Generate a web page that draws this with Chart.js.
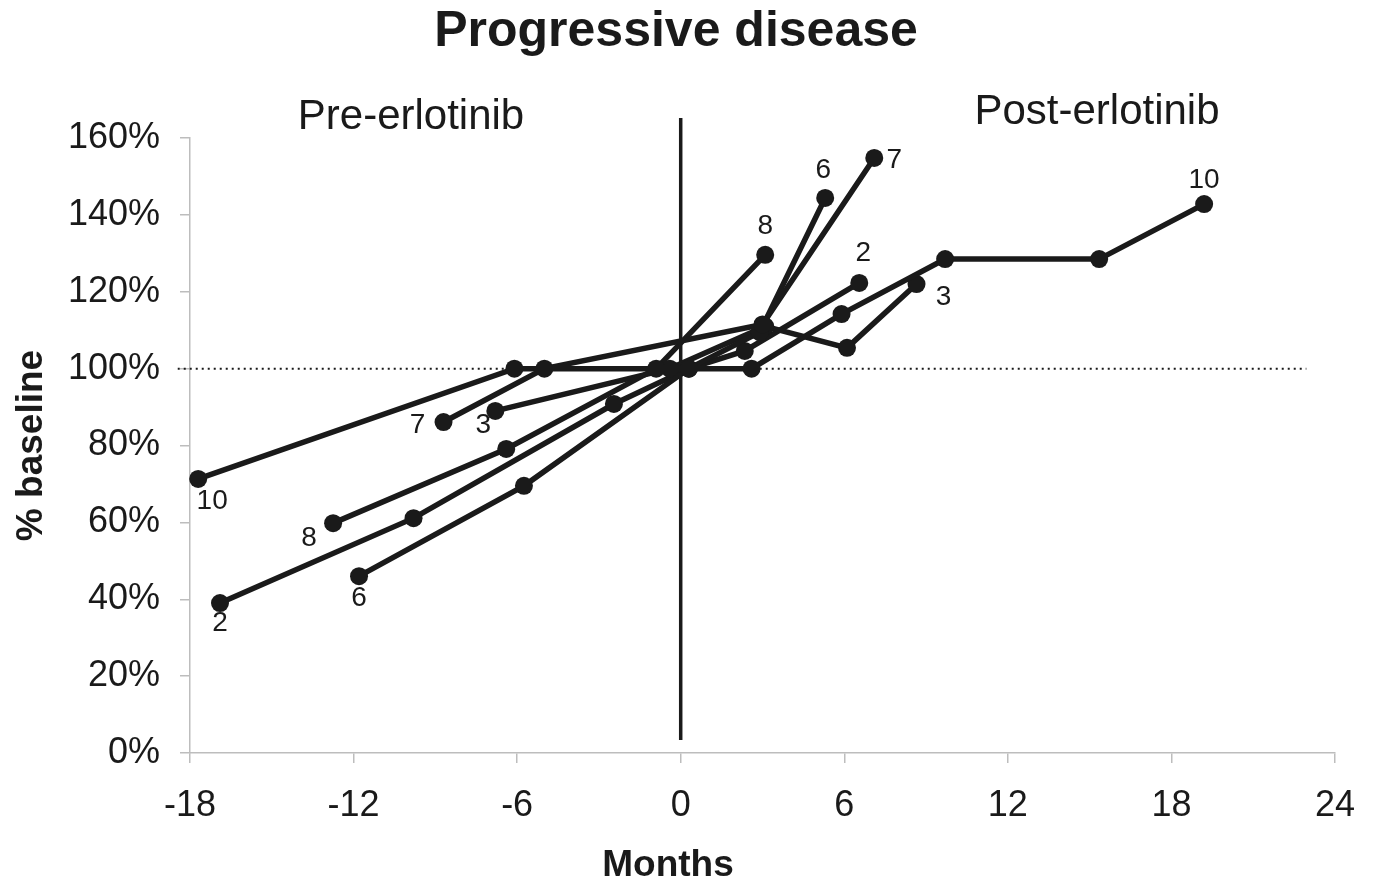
<!DOCTYPE html>
<html>
<head>
<meta charset="utf-8">
<title>Progressive disease</title>
<script src="https://cdn.jsdelivr.net/npm/chart.js@4.4.1/dist/chart.umd.min.js"></script>
<style>
  html, body { margin: 0; padding: 0; background: #fff; }
  #wrap { position: relative; width: 1376px; height: 892px; }
</style>
</head>
<body>
<div id="wrap"><canvas id="chart" width="1376" height="892"></canvas></div>
<script>
// patient ids, shown at both ends of each line
const patients = ['10', '7', '6', '8', '3', '2'];

// months from erlotinib start, and % of baseline, per patient
const months10 = [-17.7, -6.1, 2.6, 5.9, 9.7, 15.35, 19.2];
const pct10    = [71.3, 100, 100, 114.2, 128.5, 128.5, 142.8];
const months7  = [-8.7, -5.0, 3.0, 7.1];
const pct7     = [86.1, 100, 111.5, 154.8];
const months6  = [-11.8, -5.75, 0.3, 2.9, 5.3];
const pct6     = [46.0, 69.5, 100, 109.5, 144.4];
const months8  = [-12.75, -6.4, -0.9, 3.1];
const pct8     = [59.8, 79.1, 100, 129.6];
const months3  = [-6.8, -0.4, 3.1, 6.1, 8.65];
const pct3     = [89.0, 100, 111.0, 105.4, 122.0];
const months2  = [-16.9, -9.8, -2.45, 0.3, 2.35, 6.55];
const pct2     = [39.0, 61.1, 90.8, 100, 104.6, 122.3];

const allMonths = [months10, months7, months6, months8, months3, months2];
const allPct    = [pct10, pct7, pct6, pct8, pct3, pct2];

const xTicks = [-18, -12, -6, 0, 6, 12, 18, 24];
const yTicks = [0, 20, 40, 60, 80, 100, 120, 140, 160];

// where each id label sits relative to its first / last point (px)
const labelOffsets = {
  '10': [[14, 22], [0, -24]],
  '7':  [[-26, 3], [20, 2]],
  '6':  [[0, 22], [-2, -28]],
  '8':  [[-24, 15], [0, -29]],
  '3':  [[-12, 14], [27, 13]],
  '2':  [[0, 20], [4, -30]]
};

const ink = '#1a1a1a';
const font = '"Liberation Sans", Arial, sans-serif';

const datasets = patients.map((id, i) => ({
  label: id,
  data: allMonths[i].map((m, j) => ({ x: m, y: allPct[i][j] })),
  borderColor: ink,
  backgroundColor: ink,
  borderWidth: 5.5,
  pointRadius: 9,
  pointHoverRadius: 9,
  pointBorderWidth: 0,
  tension: 0,
  clip: false
}));

const guides = {
  id: 'guides',
  beforeDatasetsDraw(chart) {
    const { ctx, scales: { x, y } } = chart;
    ctx.save();
    // dotted baseline at 100%
    ctx.strokeStyle = ink;
    ctx.lineWidth = 2;
    ctx.setLineDash([2, 4]);
    ctx.beginPath();
    ctx.moveTo(x.getPixelForValue(-18.45), y.getPixelForValue(100));
    ctx.lineTo(x.getPixelForValue(22.95), y.getPixelForValue(100));
    ctx.stroke();
    // erlotinib start
    ctx.setLineDash([]);
    ctx.lineWidth = 3.5;
    ctx.beginPath();
    ctx.moveTo(x.getPixelForValue(0), y.getPixelForValue(165.2));
    ctx.lineTo(x.getPixelForValue(0), y.getPixelForValue(3.4));
    ctx.stroke();
    ctx.restore();
  },
  afterDatasetsDraw(chart) {
    const { ctx, scales: { x, y } } = chart;
    ctx.save();
    ctx.fillStyle = ink;
    ctx.textAlign = 'center';
    ctx.textBaseline = 'middle';
    ctx.font = '28px ' + font;
    patients.forEach((id, i) => {
      const ms = allMonths[i], ps = allPct[i];
      const ends = [0, ms.length - 1];
      ends.forEach((k, e) => {
        const off = labelOffsets[id][e];
        ctx.fillText(id, x.getPixelForValue(ms[k]) + off[0], y.getPixelForValue(ps[k]) + off[1]);
      });
    });
    // titles
    ctx.font = 'bold 50px ' + font;
    ctx.fillText('Progressive disease', 676, 32);
    ctx.font = '42px ' + font;
    ctx.fillText('Pre-erlotinib', 411, 117);
    ctx.fillText('Post-erlotinib', 1097, 112);
    ctx.font = 'bold 37px ' + font;
    ctx.fillText('Months', 668, 866);
    ctx.restore();
  }
};

new Chart(document.getElementById('chart'), {
  type: 'line',
  data: { datasets },
  options: {
    responsive: false,
    animation: false,
    devicePixelRatio: 1,
    layout: { padding: { top: 138, right: 40, left: 0, bottom: 0 } },
    plugins: { legend: { display: false }, tooltip: { enabled: false } },
    scales: {
      x: {
        type: 'linear',
        min: -18,
        max: 24,
        afterFit(scale) { scale.height = 139; },
        afterBuildTicks(scale) { scale.ticks = xTicks.map(v => ({ value: v })); },
        border: { color: '#bdbdbd', width: 1.5 },
        grid: { drawOnChartArea: false, color: '#bdbdbd', tickLength: 10, lineWidth: 1.5 },
        ticks: {
          color: ink,
          padding: 21,
          maxRotation: 0,
          font: { family: font, size: 36 }
        },
        title: { display: false }
      },
      y: {
        min: 0,
        max: 160,
        afterFit(scale) { scale.width = 190; },
        afterBuildTicks(scale) { scale.ticks = yTicks.map(v => ({ value: v })); },
        border: { color: '#bdbdbd', width: 1.5 },
        grid: { drawOnChartArea: false, color: '#bdbdbd', tickLength: 10, lineWidth: 1.5 },
        ticks: {
          color: ink,
          padding: 20,
          callback: v => v + '%',
          font: { family: font, size: 36 }
        },
        title: {
          display: true,
          text: '% baseline',
          color: ink,
          padding: { top: 10, bottom: 0 },
          font: { family: font, size: 37, weight: 'bold' }
        }
      }
    }
  },
  plugins: [guides]
});
</script>
</body>
</html>
